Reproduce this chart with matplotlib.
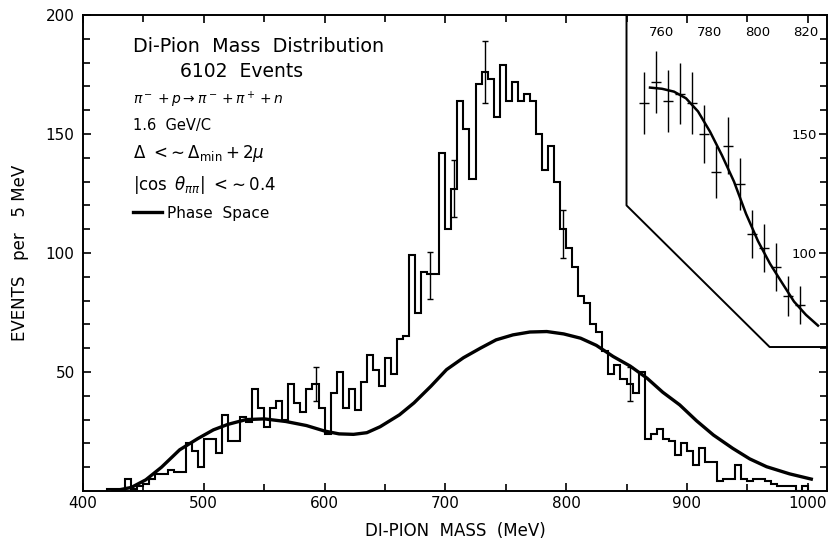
import matplotlib
matplotlib.use("Agg")
import matplotlib.pyplot as plt
import numpy as np

# di-pion mass histogram, 5 MeV bins starting at 420 MeV
bin_lo = 420
bin_w = 5
counts = [1, 1, 0, 5, 1, 2, 3, 5, 7, 7, 9, 8, 8, 20, 17, 10, 22, 22, 16, 32,
          21, 21, 31, 29, 43, 35, 27, 35, 38, 30, 45, 37, 33, 43, 45, 35, 24, 41, 50, 35,
          43, 34, 46, 57, 51, 44, 56, 49, 64, 65, 99, 75, 92, 91, 91, 142, 110, 127, 164, 152,
          131, 171, 176, 173, 157, 179, 164, 172, 164, 167, 164, 150, 135, 145, 130, 110, 102, 94, 82, 79,
          70, 67, 59, 49, 53, 47, 45, 41, 50, 22, 24, 26, 22, 21, 15, 20, 17, 11, 18, 12,
          12, 4, 5, 5, 11, 5, 4, 5, 5, 4, 3, 2, 2, 2, 0, 2]

# statistical error bars drawn on a few bins
err_mass = [592.5, 687.5, 707.5, 732.5, 797.5, 852.5]
err_val = [45, 90.5, 127, 176, 108, 45]
err_size = [7, 10, 12, 13, 10, 7]

# phase space curve
ps_mass = [425, 440, 452, 465, 480, 495, 508, 520, 535, 550, 568, 585, 600, 612, 624,
           635, 646, 662, 674, 688, 701, 715, 729, 742, 756, 770, 784, 798, 812, 825,
           839, 853, 867, 880, 894, 908, 922, 938, 952, 966, 985, 1003]
ps_val = [0, 1.5, 4.7, 10, 17.3, 22, 25.7, 28, 30, 30.3, 29.2, 27.5, 25.2, 24, 23.8,
          24.5, 27, 32, 37, 44, 51, 56, 60, 63.5, 65.6, 66.8, 67, 66, 64.2, 61.2,
          56.5, 52.5, 47.4, 41.5, 36.2, 29.5, 23.5, 17.9, 13.5, 10.2, 7.2, 5]

# expanded view of the rho region
zoom_mass = [752.5, 757.5, 762.5, 767.5, 772.5, 777.5, 782.5, 787.5, 792.5, 797.5,
             802.5, 807.5, 812.5, 817.5]
zoom_val = [163, 172, 164, 167, 163, 150, 134, 145, 129, 108, 102, 94, 82, 78]
zoom_err = [13, 13, 13, 13, 13, 12, 11, 12, 11, 10, 10, 10, 8.5, 8]
zfit_mass = [755, 760, 765, 770, 775, 780, 785, 790, 795, 800, 805, 810, 815, 820, 825]
zfit_val = [169.5, 169, 167.8, 165, 159.5, 151, 141, 130, 116.5, 105, 95.5, 87.5, 79.6, 74, 69.5]

# outline of the inset panel (main-axis coordinates)
box_x = [850, 850, 968.5, 1020]
box_y = [200, 120, 60.5, 60.5]

plt.rcParams['font.family'] = ['DejaVu Sans']

fig = plt.figure(figsize=(8.29, 5.45), dpi=100)
L, R, T, B = 83 / 829, 827 / 829, 1 - 15 / 545, 1 - 491 / 545
ax = fig.add_axes([L, B, R - L, T - B])

edges = bin_lo + bin_w * np.arange(len(counts) + 1)
ax.stairs(counts, edges, baseline=0, color='black', lw=1.5)
ax.errorbar(err_mass, err_val, yerr=err_size, fmt='none', ecolor='black',
            elinewidth=1.0, capsize=2.5, capthick=1.0)
curve, = ax.plot(ps_mass, ps_val, color='black', lw=2.4)
ax.plot(box_x, box_y, color='black', lw=1.4, clip_on=True)

ax.set_xlim(400, 1016)
ax.set_ylim(0, 200)
ax.set_xticks(np.arange(400, 1001, 100))
ax.set_xticks(np.arange(450, 1001, 50), minor=True)
ax.set_yticks([50, 100, 150, 200])
ax.set_yticks(np.arange(10, 200, 10), minor=True)
ax.tick_params(which='both', direction='in', top=True, right=True, width=1.2,
               labelsize=11, colors='black')
ax.tick_params(which='major', length=6)
ax.tick_params(which='minor', length=5)
ax.tick_params(axis='y', which='major', pad=6)
for s in ax.spines.values():
    s.set_linewidth(1.4)

ax.set_xlabel('DI-PION  MASS  (MeV)', fontsize=12, labelpad=8)
ax.set_ylabel('EVENTS   per   5 MeV', fontsize=12, labelpad=12)

def note(x, y, s, size=12.5):
    ax.text(x, y, s, transform=ax.transAxes, fontsize=size, va='center', ha='left')

note(0.067, 0.933, 'Di-Pion  Mass  Distribution', 13.8)
note(0.130, 0.882, '6102  Events', 13.5)
note(0.067, 0.821, r'$\pi^- + p \rightarrow \pi^- + \pi^+ + n$', 10)
note(0.067, 0.767, '1.6  GeV/C', 10.5)
note(0.067, 0.710, r'$\Delta\ <\!\sim \Delta_{\rm min} + 2\mu$', 12)
note(0.067, 0.643, r'$|\cos\ \theta_{\pi\pi}|\ <\!\sim 0.4$', 12)
ax.legend([curve], ['Phase  Space'], loc='center left',
          bbox_to_anchor=(0.067, 0.584), frameon=False, fontsize=11,
          borderpad=0, borderaxespad=0, handlelength=1.9, handletextpad=0.35)

# inset: same vertical scale, expanded mass scale
ins = fig.add_axes([626 / 829, B, (827 - 626) / 829, T - B])
ins.patch.set_alpha(0)
for s in ins.spines.values():
    s.set_visible(False)
ins.set_xlim(745, 828.75)
ins.set_ylim(0, 200)
ins.errorbar(zoom_mass, zoom_val, yerr=zoom_err, xerr=2.0, fmt='none',
             ecolor='black', elinewidth=1.0)
ins.plot(zfit_mass, zfit_val, color='black', lw=1.8)
ins.set_xticks([760, 780, 800, 820])
ins.xaxis.set_ticks_position('top')
ins.tick_params(axis='x', length=0, labeltop=True, labelbottom=False, pad=-8,
                labelsize=9.5)
for t in ins.xaxis.get_major_ticks():
    t.label2.set_va('top')
ins.yaxis.set_ticks_position('right')
ins.set_yticks([100, 150])
ins.tick_params(axis='y', length=0, labelright=True, labelleft=False, pad=-7,
                labelsize=9.5)
for t in ins.yaxis.get_major_ticks():
    t.label2.set_ha('right')

fig.savefig('out.png', dpi=100)
